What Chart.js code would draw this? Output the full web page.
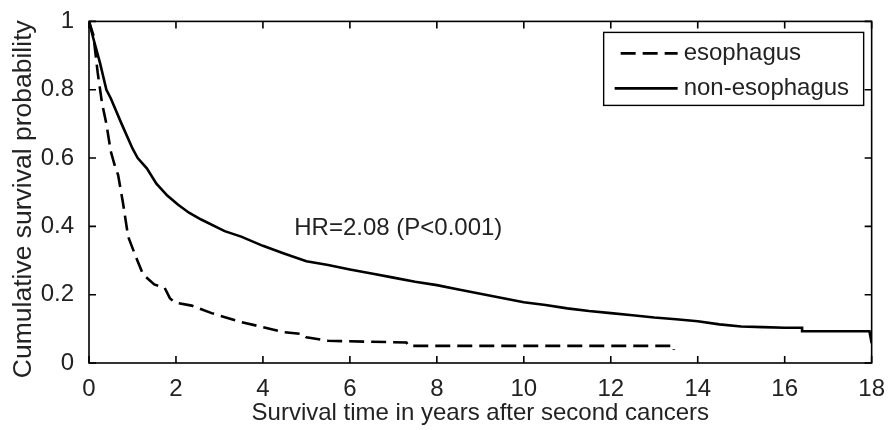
<!DOCTYPE html>
<html>
<head>
<meta charset="utf-8">
<script src="https://cdn.jsdelivr.net/npm/chart.js@4.4.1/dist/chart.umd.min.js"></script>
<style>
  html, body { margin: 0; padding: 0; background: #fff; }
  #wrap { width: 889px; height: 430px; }
</style>
</head>
<body>
<div id="wrap"><canvas id="c" width="889" height="430"></canvas></div>
<script>
// ---- data ----
const seriesNames = ['esophagus', 'non-esophagus'];

const esoTimes = [0, 0.1, 0.2, 0.3, 0.4, 0.5, 0.6, 0.67, 0.78, 0.9, 1.05, 1.24, 1.5, 1.74, 1.86, 1.97, 2.36, 2.82, 3.5, 4.0, 4.5, 4.9, 5.0, 5.5, 7.3, 7.35, 13.45, 13.45];
const esoSurv  = [1.0, 0.96, 0.85, 0.76, 0.70, 0.62, 0.575, 0.55, 0.47, 0.37, 0.32, 0.26, 0.23, 0.22, 0.19, 0.177, 0.168, 0.146, 0.12, 0.105, 0.09, 0.085, 0.075, 0.065, 0.06, 0.05, 0.05, 0.038];

const nonTimes = [0, 0.1, 0.25, 0.4, 0.5, 0.75, 1.0, 1.12, 1.33, 1.55, 1.8, 2.05, 2.3, 2.58, 3.12, 3.5, 4.0, 4.5, 5.0, 5.5, 6.0, 6.5, 7.0, 7.5, 8.0, 8.5, 9.0, 9.5, 10.0, 10.5, 11.0, 11.5, 12.0, 12.5, 13.0, 13.5, 14.0, 14.5, 15.0, 15.5, 16.0, 16.4, 16.4, 17.0, 17.95, 18.0];
const nonSurv  = [1.0, 0.95, 0.88, 0.80, 0.775, 0.70, 0.628, 0.60, 0.57, 0.525, 0.49, 0.463, 0.44, 0.42, 0.386, 0.37, 0.343, 0.32, 0.298, 0.287, 0.274, 0.262, 0.25, 0.238, 0.228, 0.215, 0.203, 0.19, 0.178, 0.17, 0.16, 0.152, 0.146, 0.14, 0.133, 0.128, 0.122, 0.113, 0.107, 0.105, 0.103, 0.103, 0.093, 0.093, 0.093, 0.058];

const xTickLabels = ['0', '2', '4', '6', '8', '10', '12', '14', '16', '18'];
const yTickLabels = ['0', '0.2', '0.4', '0.6', '0.8', '1'];
const xTitle = 'Survival time in years after second cancers';
const yTitle = 'Cumulative survival probability';
const annotationText = 'HR=2.08 (P<0.001)';
const annotationAt = { x: 4.72, y: 0.394 };

// ---- styling ----
const FONT = 'Liberation Sans, Arial, Helvetica, sans-serif';
const TEXT = '#222';

function toPoints(ts, ss) { return ts.map((t, i) => ({ x: t, y: ss[i] })); }

const boxPlugin = {
  id: 'matlabBox',
  afterDatasetsDraw(chart) {
    const { ctx, chartArea: a, scales } = chart;
    ctx.save();
    ctx.strokeStyle = '#000';
    ctx.lineWidth = 1.6;
    ctx.strokeRect(a.left, a.top, a.right - a.left, a.bottom - a.top);
    const tl = 7;
    ctx.beginPath();
    scales.x.ticks.forEach(t => {
      const px = scales.x.getPixelForValue(t.value);
      ctx.moveTo(px, a.bottom); ctx.lineTo(px, a.bottom - tl);
      ctx.moveTo(px, a.top); ctx.lineTo(px, a.top + tl);
    });
    scales.y.ticks.forEach(t => {
      const py = scales.y.getPixelForValue(t.value);
      ctx.moveTo(a.left, py); ctx.lineTo(a.left + tl, py);
      ctx.moveTo(a.right, py); ctx.lineTo(a.right - tl, py);
    });
    ctx.stroke();

    // y axis title (rotated)
    ctx.save();
    ctx.translate(24, (a.top + a.bottom) / 2 + 7);
    ctx.rotate(-Math.PI / 2);
    ctx.fillStyle = TEXT;
    ctx.font = '26.5px ' + FONT;
    ctx.textAlign = 'center';
    ctx.textBaseline = 'middle';
    ctx.fillText(yTitle, 0, 0);
    ctx.restore();

    // annotation
    ctx.fillStyle = TEXT;
    ctx.font = '24px ' + FONT;
    ctx.textBaseline = 'middle';
    ctx.textAlign = 'left';
    ctx.fillText(annotationText, scales.x.getPixelForValue(annotationAt.x), scales.y.getPixelForValue(annotationAt.y));

    // legend
    const lw = 260, lh = 73;
    const lx = a.right - 8 - lw, ly = a.top + 11;
    ctx.fillStyle = '#fff';
    ctx.fillRect(lx, ly, lw, lh);
    ctx.lineWidth = 1.4;
    ctx.strokeStyle = '#000';
    ctx.strokeRect(lx, ly, lw, lh);
    chart.data.datasets.forEach((ds, i) => {
      const cy = ly + 21 + i * 35;
      ctx.beginPath();
      ctx.lineWidth = 2.6;
      ctx.setLineDash(ds.borderDash || []);
      ctx.moveTo(lx + (ds.borderDash && ds.borderDash.length ? 17 : 11), cy);
      ctx.lineTo(lx + 74, cy);
      ctx.stroke();
      ctx.setLineDash([]);
      ctx.fillStyle = TEXT;
      ctx.fillText(ds.label, lx + 80, cy);
    });
    ctx.restore();
  }
};

new Chart(document.getElementById('c'), {
  type: 'line',
  data: {
    datasets: [
      { label: seriesNames[0], data: toPoints(esoTimes, esoSurv), borderColor: '#000', borderWidth: 2.6, borderDash: [15, 7], pointRadius: 0, fill: false, tension: 0 },
      { label: seriesNames[1], data: toPoints(nonTimes, nonSurv), borderColor: '#000', borderWidth: 2.6, pointRadius: 0, fill: false, tension: 0 }
    ]
  },
  options: {
    responsive: false,
    animation: false,
    devicePixelRatio: 1,
    layout: { padding: { left: 0, top: 18, right: 15, bottom: 0 } },
    plugins: { legend: { display: false }, tooltip: { enabled: false } },
    scales: {
      x: {
        type: 'linear', min: 0, max: 18,
        grid: { display: false }, border: { display: false },
        ticks: {
          stepSize: 2, color: TEXT, padding: 4, maxRotation: 0,
          font: { family: FONT, size: 24 },
          callback: (v) => xTickLabels[Math.round(v / 2)]
        },
        title: { display: true, text: xTitle, color: TEXT, font: { family: FONT, size: 24 }, padding: { top: 0, bottom: 2 } },
        afterFit: (s) => { s.height = 67; }
      },
      y: {
        type: 'linear', min: 0, max: 1,
        grid: { display: false }, border: { display: false },
        ticks: {
          stepSize: 0.2, color: TEXT, padding: 7,
          font: { family: FONT, size: 24 },
          callback: (v) => yTickLabels[Math.round(v * 5)]
        },
        title: { display: false },
        afterFit: (s) => { s.width = 89; }
      }
    }
  },
  plugins: [boxPlugin]
});
</script>
</body>
</html>
